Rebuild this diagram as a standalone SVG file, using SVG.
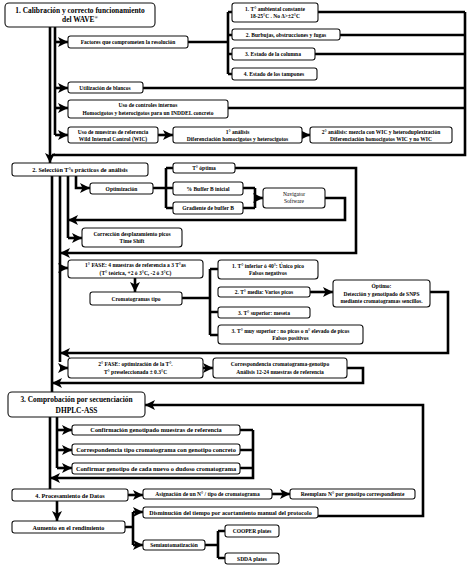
<svg xmlns="http://www.w3.org/2000/svg" width="472" height="567" viewBox="0 0 472 567">
<defs>
<marker id="ah" viewBox="0 0 10 10" refX="10" refY="5" markerWidth="10" markerHeight="10" markerUnits="userSpaceOnUse" orient="auto">
<path d="M0,0 L10,5 L0,10 L2.5,5 z" fill="#000"/>
</marker>
<style>
rect{fill:#fff;stroke:#111;stroke-width:1.1}
text{font-family:"Liberation Serif","Times New Roman",serif;font-weight:bold;fill:#000;text-anchor:middle}
.h{font-size:7.4px}
.s{font-size:5.5px}
.m{font-size:6.2px}
.l{font-size:6.3px}
.n{font-weight:normal}
#connectors path{fill:none;stroke:#000;stroke-width:2.6}
.a{marker-end:url(#ah)}
</style>
</defs>
<rect x="0" y="0" width="472" height="567" style="fill:#fff;stroke:none"/>
<g id="connectors">
<path class="a" d="M50,27 V163"/>
<path d="M55,27 V135"/>
<path class="a" d="M55,42 H68"/>
<path class="a" d="M55,88 H68"/>
<path class="a" d="M55,108 H68"/>
<path class="a" d="M55,135 H68"/>
<path d="M188,42 H228 M228,12 V74 M228,12 H232 M228,35 H232 M228,54 H232 M228,74 H232"/>
<path d="M318,12 H465 M340,35 H465 M315,54 H465 M143,88 H465 M228,108 H465"/>
<path d="M465,12 V155 H52"/>
<path class="a" d="M158,135 H173"/>
<path class="a" d="M302,135 H310"/>
<path d="M52,176 V392"/>
<path d="M60,176 V362"/>
<path d="M68,176 V238"/>
<path class="a" d="M76,176 V188 H90"/>
<path d="M153,188 H166 M166,168 V208 M166,168 H173 M166,188 H173 M166,208 H173"/>
<path class="a" d="M235,168 H356 V253 H60"/>
<path d="M243,188 H255 M243,208 H255 M255,188 V208"/>
<path class="a" d="M255,198 H263"/>
<path class="a" d="M325,198 H345 V220 H68"/>
<path class="a" d="M68,238 H82"/>
<path class="a" d="M60,268 H68"/>
<path class="a" d="M135,278 V292"/>
<path d="M182,298 H210 M210,269 V335 M210,269 H218 M210,312 H218 M210,335 H218"/>
<path class="a" d="M310,292 H333"/>
<path class="a" d="M430,292 H448 V353 H60"/>
<path class="a" d="M60,368 H68"/>
<path class="a" d="M203,368 H213"/>
<path class="a" d="M347,368 H363 V383 H52"/>
<path class="a" d="M318,516 H423 V405 H145"/>
<path d="M50,417 V489"/>
<path d="M57,417 V468"/>
<path class="a" d="M57,430 H72"/>
<path class="a" d="M57,450 H72"/>
<path class="a" d="M57,468 H72"/>
<path d="M240,430 H253 M240,450 H253 M240,468 H253"/>
<path class="a" d="M253,430 V478 H50"/>
<path class="a" d="M128,495 H143"/>
<path class="a" d="M272,494 H290"/>
<path class="a" d="M57,501 V521"/>
<path d="M125,527 H133 M133,512 V545"/>
<path class="a" d="M133,512 H143"/>
<path class="a" d="M133,545 H143"/>
<path d="M205,545 H218 M218,531 V558 M218,531 H225 M218,558 H225"/>
</g>
<g id="n1"><rect x="5" y="3" width="150" height="24" rx="4"/><text class="h" x="80" y="13">1. Calibración y correcto funcionamiento</text><text class="h" x="80" y="22">del WAVE<tspan font-size="4.5" dy="-3">®</tspan></text></g>
<g id="n_factores"><rect x="68" y="36" width="120" height="12" rx="2.5"/><text class="s" x="128" y="44">Factores que comprometen la resolución</text></g>
<g id="n_tamb"><rect x="232" y="3" width="86" height="19" rx="2.5"/><text class="s" x="275" y="10.5">1. T° ambiental  constante</text><text class="s" x="275" y="18">18-25°C . No Δ&gt;±2°C</text></g>
<g id="n_burb"><rect x="232" y="29" width="108" height="11" rx="2.5"/><text class="s" x="286" y="36.5">2. Burbujas, obstrucciones y fugas</text></g>
<g id="n_col"><rect x="232" y="48" width="83" height="12" rx="2.5"/><text class="s" x="273" y="56">3. Estado de la columna</text></g>
<g id="n_tamp"><rect x="232" y="68" width="85" height="12" rx="2.5"/><text class="s" x="274" y="76">4. Estado de los tampones</text></g>
<g id="n_blancos"><rect x="68" y="82" width="75" height="11" rx="2.5"/><text class="s" x="105" y="89.5">Utilización de blancos</text></g>
<g id="n_controles"><rect x="68" y="100" width="160" height="18" rx="2.5"/><text class="s" x="148" y="107">Uso de controles internos</text><text class="s" x="148" y="115">Homocigotos y heterocigotos para un INDDEL concreto</text></g>
<g id="n_muestras"><rect x="68" y="127" width="90" height="16" rx="2.5"/><text class="s" x="113" y="133.5">Uso de muestras de  referencia</text><text class="s" x="113" y="140.5">Wild Internal Control (WIC)</text></g>
<g id="n_an1"><rect x="173" y="127" width="129" height="16" rx="2.5"/><text class="s" x="237.5" y="133.5">1° análisis</text><text class="s" x="237.5" y="140.5">Diferenciación homocigotos y heterocigotos</text></g>
<g id="n_an2"><rect x="310" y="127" width="142" height="16" rx="2.5"/><text class="s" x="381" y="133.5">2° análisis: mezcla con WIC y heteroduplexización</text><text class="s" x="381" y="140.5">Diferenciación homocigotos WIC y no WIC</text></g>
<g id="n2"><rect x="12" y="163" width="136" height="13" rx="2.5"/><text class="m" x="80" y="171.5">2. Selección T°s prácticos de análisis</text></g>
<g id="n_opt"><rect x="90" y="183" width="63" height="11" rx="2.5"/><text class="s" x="121.5" y="190.5">Optimización</text></g>
<g id="n_topt"><rect x="173" y="163" width="62" height="10" rx="2.5"/><text class="s" x="204" y="170">T° óptima</text></g>
<g id="n_buf"><rect x="173" y="182" width="70" height="13" rx="2.5"/><text class="s" x="208" y="190.5">% Buffer B inicial</text></g>
<g id="n_grad"><rect x="173" y="202" width="70" height="12" rx="2.5"/><text class="s" x="208" y="210">Gradiente de buffer B</text></g>
<g id="n_nav"><rect x="263" y="188" width="62" height="20" rx="3"/><text class="s n" x="294" y="196">Navigator</text><text class="s n" x="294" y="203">Software</text></g>
<g id="n_corr"><rect x="82" y="228" width="100" height="19" rx="3"/><text class="s" x="132" y="235.5">Corrección desplazamiento picos</text><text class="s" x="132" y="243">Time Shift</text></g>
<g id="n_fase1"><rect x="68" y="260" width="135" height="18" rx="3"/><text class="s" x="135.5" y="267">1° FASE: 4 muestras de referencia a 3 T°as</text><text class="s" x="135.5" y="275">(T° teórica, +2 ó 3°C, -2 ó 3°C)</text></g>
<g id="n_crom"><rect x="90" y="292" width="92" height="13" rx="2.5"/><text class="s" x="136" y="300.5">Cromatogramas tipo</text></g>
<g id="n_tinf"><rect x="218" y="260" width="100" height="19" rx="3"/><text class="s" x="268" y="267.5">1. T° inferior ó 40°: Único pico</text><text class="s" x="268" y="275">Falsos negativos</text></g>
<g id="n_tmed"><rect x="218" y="287" width="92" height="10" rx="2.5"/><text class="s" x="264" y="294">2. T° media: Varios picos</text></g>
<g id="n_tsup"><rect x="218" y="307" width="92" height="11" rx="2.5"/><text class="s" x="264" y="314.5">3. T° superior: meseta</text></g>
<g id="n_tmsup"><rect x="218" y="325" width="145" height="19" rx="3"/><text class="s" x="290.5" y="332.5">3. T° muy superior : no picos o n° elevado de picos</text><text class="s" x="290.5" y="340">Falsos positivos</text></g>
<g id="n_optimo"><rect x="333" y="280" width="97" height="27" rx="3"/><text class="s" x="381.5" y="288">Óptimo:</text><text class="s" x="381.5" y="295.5">Detección y genotipado de SNPS</text><text class="s" x="381.5" y="302.5">mediante cromatogramas sencillos.</text></g>
<g id="n_fase2"><rect x="68" y="358" width="135" height="20" rx="3"/><text class="s" x="135.5" y="366">2° FASE: optimización de la T°.</text><text class="s" x="135.5" y="374">T° preseleccionada ± 0.3°C</text></g>
<g id="n_corresp"><rect x="213" y="358" width="134" height="20" rx="3"/><text class="s" x="280" y="366">Correspondencia cromatograma-genotipo</text><text class="s" x="280" y="374">Análisis 12-24 muestras de referencia</text></g>
<g id="n3"><rect x="8" y="392" width="137" height="25" rx="4"/><text class="h" x="76.5" y="402">3. Comprobación por secuenciación</text><text class="h" x="76.5" y="413">DHPLC-ASS</text></g>
<g id="n_conf1"><rect x="72" y="425" width="168" height="10" rx="2.5"/><text class="l" x="156" y="432.2">Confirmación genotipado muestras de referencia</text></g>
<g id="n_conf2"><rect x="72" y="444" width="168" height="11" rx="2.5"/><text class="l" x="156" y="451.7">Correspondencia tipo cromatograma con genotipo concreto</text></g>
<g id="n_conf3"><rect x="72" y="463" width="168" height="11" rx="2.5"/><text class="l" x="156" y="470.7">Confirmar genotipo de cada nuevo o dudoso cromatograma</text></g>
<g id="n4"><rect x="12" y="489" width="116" height="12" rx="2.5"/><text class="m" x="70" y="497.5">4. Procesamiento de Datos</text></g>
<g id="n_asig"><rect x="143" y="489" width="129" height="10" rx="2.5"/><text class="s" x="207.5" y="496">Asignación de un N° / tipo de cromatograma</text></g>
<g id="n_reemp"><rect x="290" y="489" width="125" height="10" rx="2.5"/><text class="s" x="352.5" y="496">Reemplazo N° por genotipo correspondiente</text></g>
<g id="n_aum"><rect x="12" y="521" width="113" height="12" rx="2.5"/><text class="m" x="68.5" y="529.5">Aumento en el rendimiento</text></g>
<g id="n_dism"><rect x="143" y="507" width="175" height="11" rx="2.5"/><text class="s" x="230.5" y="514.5" style="font-size:6px">Disminución  del tiempo por acortamiento manual del protocolo</text></g>
<g id="n_semi"><rect x="143" y="540" width="62" height="10" rx="2.5"/><text class="s" x="174" y="547">Semiautomatización</text></g>
<g id="n_cooper"><rect x="225" y="525" width="54" height="12" rx="2.5"/><text class="s" x="252" y="533">COOPER plates</text></g>
<g id="n_sdda"><rect x="225" y="553" width="54" height="11" rx="2.5"/><text class="s" x="252" y="560.5">SDDA plates</text></g>
</svg>
